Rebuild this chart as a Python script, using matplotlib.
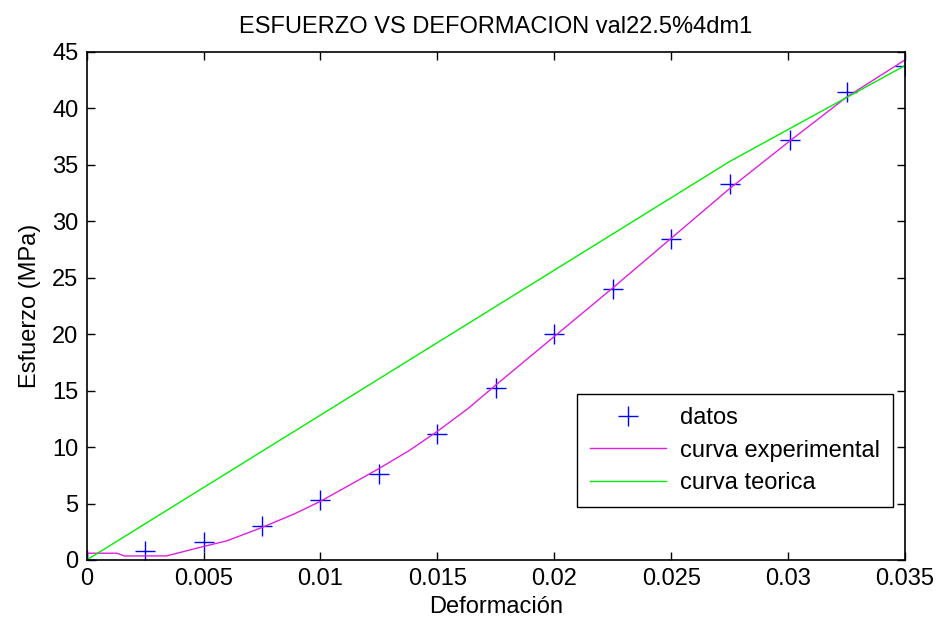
import matplotlib.pyplot as plt

plt.rcParams['font.family'] = ['Liberation Sans', 'DejaVu Sans']

# measured points
deformacion = [0, 0.0025, 0.005, 0.0075, 0.01, 0.0125, 0.015, 0.0175,
               0.02, 0.0225, 0.025, 0.0275, 0.0301, 0.0325, 0.035]
esfuerzo = [0, 0.8, 1.6, 3.0, 5.3, 7.6, 11.2, 15.2,
            20.0, 24.0, 28.4, 33.3, 37.2, 41.5, 43.8]

# fitted experimental curve
x_exp = [0, 0.0013, 0.0016, 0.0034, 0.004, 0.005, 0.006, 0.0074, 0.0089,
         0.01, 0.0113, 0.0125, 0.0138, 0.015, 0.0163, 0.0175, 0.02, 0.0225,
         0.025, 0.0275, 0.03, 0.0325, 0.035]
y_exp = [0.6, 0.6, 0.36, 0.36, 0.67, 1.2, 1.7, 2.8, 4.1,
         5.2, 6.7, 8.1, 9.7, 11.4, 13.4, 15.5, 19.8, 24.1,
         28.5, 32.9, 37.0, 41.0, 44.3]

# theoretical curve
x_teo = [0, 0.0275, 0.035]
y_teo = [0, 35.3, 43.8]

fig = plt.figure(figsize=(9.38, 6.25), dpi=100)
ax = fig.add_axes([0.0924, 0.104, 0.8724, 0.8128])

ax.plot(deformacion, esfuerzo, '+', color='#0000ff', markersize=14,
        markeredgewidth=1.0, label='datos')
ax.plot(x_exp, y_exp, '-', color='#e020e0', linewidth=1.0, label='curva experimental')
ax.plot(x_teo, y_teo, '-', color='#00ee00', linewidth=1.0, label='curva teorica')

ax.set_xlim(0, 0.035)
ax.set_ylim(0, 45)
ax.set_xticks([0, 0.005, 0.01, 0.015, 0.02, 0.025, 0.03, 0.035])
ax.set_xticklabels(['0', '0.005', '0.01', '0.015', '0.02', '0.025', '0.03', '0.035'])
ax.set_yticks(range(0, 46, 5))
ax.tick_params(direction='in', length=6, width=1, top=True, right=True,
               labelsize=17, pad=6)
for s in ax.spines.values():
    s.set_linewidth(1.2)

ax.set_title('ESFUERZO VS DEFORMACION val22.5%4dm1', fontsize=17, pad=14)
ax.set_xlabel('Deformación', fontsize=17, labelpad=4)
ax.set_ylabel('Esfuerzo (MPa)', fontsize=17, labelpad=8)

leg = ax.legend(loc='lower right', bbox_to_anchor=(0.9853, 0.104), fontsize=17,
                fancybox=False, framealpha=1, edgecolor='black',
                borderaxespad=0, handlelength=3.2, labelspacing=0.45,
                borderpad=0.55, handletextpad=0.6)
leg.get_frame().set_linewidth(1.0)

fig.savefig('out.png', dpi=100)
